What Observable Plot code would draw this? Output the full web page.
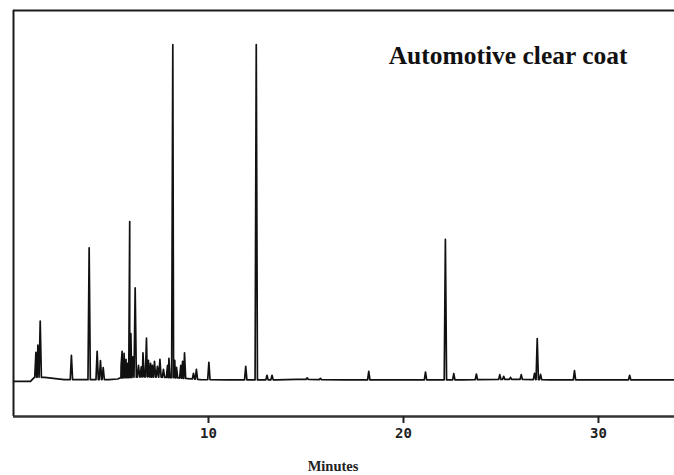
<!DOCTYPE html>
<html>
<head>
<meta charset="utf-8">
<script src="https://cdn.jsdelivr.net/npm/d3@7"></script>
<script src="https://cdn.jsdelivr.net/npm/@observablehq/plot@0.6"></script>
<style>
  html, body { margin: 0; padding: 0; background: #fff; }
  #chart svg { display: block; }
</style>
</head>
<body>
<div id="chart"></div>
<script>
// Title and axis texts
const titleText = "Automotive clear coat";
const xLabelText = "Minutes";
const xTicks = [10, 20, 30];

// Peak retention times (minutes) and apex heights (% of largest peak)
const peakTime = [1.15, 1.25, 1.37, 2.97, 3.88, 4.29, 4.46, 4.60,
  5.52, 5.57, 5.67, 5.77, 5.85, 5.96, 6.02, 6.12, 6.24, 6.41, 6.55, 6.64, 6.82,
  6.92, 7.03, 7.12, 7.23, 7.38, 7.51, 7.69, 7.90, 7.97, 8.17, 8.27,
  8.36, 8.58, 8.67, 8.77, 9.23, 9.38, 10.02, 11.91, 12.45,
  13.0, 13.26, 15.06, 15.74, 18.22, 21.13, 22.15, 22.58, 23.74, 24.94, 25.14, 25.49, 26.04,
  26.72, 26.86, 27.03, 28.77, 31.6];
const peakHeight = [8.4, 10.5, 17.7, 7.5, 39.6, 8.7, 5.9, 3.8,
  4.5, 8.7, 8.1, 6.3, 5.1, 47.4, 14.0, 7.0, 27.6, 4.5, 4.0, 8.2, 12.6,
  6.0, 5.1, 4.5, 5.7, 4.2, 6.3, 3.3, 4.5, 6.6, 100.3, 6.0,
  3.9, 4.5, 5.7, 8.2, 2.1, 3.3, 5.4, 4.2, 100.3,
  1.5, 1.5, 0.75, 0.6, 2.7, 2.5, 42.1, 2.0, 1.9, 1.7, 1.2, 0.9, 1.7,
  2.1, 12.5, 1.8, 2.9, 1.5];

// Baseline of the trace (minutes, level)
const baseTime = [0, 0.87, 1.07, 1.6, 2.6, 3.5, 4.9, 5.35, 5.45, 6.5, 7.0, 7.75, 8.5, 8.95, 9.6, 11, 13.5, 14.5, 17, 19, 21, 23, 25.8, 27.5, 29, 31, 33.9];
const baseLevel = [-0.3, -0.3, 0.9, 0.9, 0.2, 0.2, 0.2, 0.4, 0.7, 1.0, 1.0, 0.9, 0.7, 0.5, 0.2, 0.15, 0.15, 0.3, 0.15, 0.15, 0.15, 0.15, 0.3, 0.15, 0.15, 0.15, 0.15];

// Build the trace from the baseline and the peaks
const baseAt = d3.scaleLinear().domain(baseTime).range(baseLevel).clamp(true);
const halfWidth = 0.06;
const trace = baseTime.map((t, i) => ({t, v: baseLevel[i]}));
peakTime.forEach((t, i) => {
  trace.push({t: t - halfWidth, v: baseAt(t - halfWidth)});
  trace.push({t, v: peakHeight[i]});
  trace.push({t: t + halfWidth, v: baseAt(t + halfWidth)});
});
trace.sort((a, b) => a.t - b.t);

const xDomain = [0, 33.9];
const yDomain = [-10.8, 110.5];

const chart = Plot.plot({
  width: 674,
  height: 475,
  marginTop: 10,
  marginBottom: 59,
  marginLeft: 13,
  marginRight: 0,
  style: {background: "#fff", color: "#222"},
  x: {domain: xDomain},
  y: {domain: yDomain, axis: null},
  marks: [
    Plot.line(trace, {x: "t", y: "v", stroke: "#111", strokeWidth: 1.7, strokeLinejoin: "round"}),
    Plot.ruleX([xDomain[0]], {stroke: "#1a1a1a", strokeWidth: 2}),
    Plot.ruleY([yDomain[1]], {stroke: "#1a1a1a", strokeWidth: 2}),
    Plot.ruleY([yDomain[0]], {stroke: "#333", strokeWidth: 2.5}),
    Plot.axisX({
      ticks: xTicks,
      tickSize: 7,
      tickPadding: 5,
      strokeWidth: 2,
      tickFormat: d => String(d),
      label: null,
      fontSize: 14,
      fontWeight: "bold",
      fontFamily: "DejaVu Sans Mono"
    }),
    Plot.text([titleText], {
      text: d => d,
      frameAnchor: "top-right",
      textAnchor: "end",
      lineAnchor: "middle",
      dx: -47,
      dy: 45.5,
      fontSize: 25.5,
      fontWeight: "bold",
      fontFamily: "Liberation Serif",
      fill: "#111"
    }),
    Plot.text([xLabelText], {
      text: d => d,
      frameAnchor: "bottom",
      lineAnchor: "middle",
      dx: -11,
      dy: 50,
      fontSize: 14.5,
      fontWeight: "bold",
      fontFamily: "Liberation Serif",
      fill: "#222"
    })
  ]
});
document.getElementById("chart").appendChild(chart);
</script>
</body>
</html>
